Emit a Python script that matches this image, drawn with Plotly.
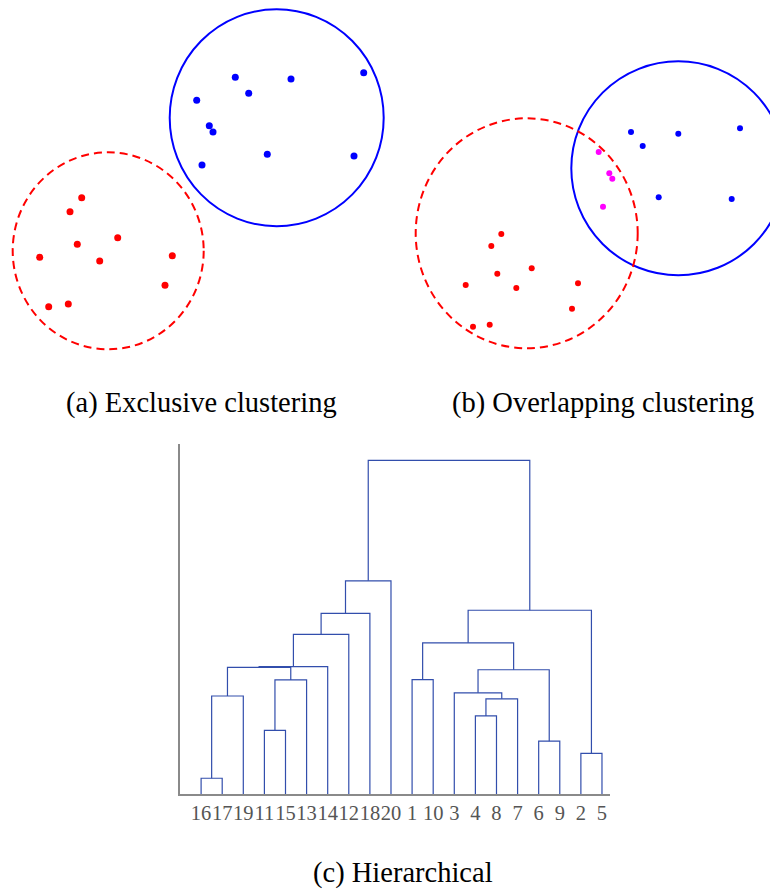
import plotly.graph_objects as go

# The page has an 8px body margin, so the figure is drawn 8px in from the top-left corner.
OFF = 8
PAGE_W, PAGE_H = 778, 891
W, H = PAGE_W - OFF, PAGE_H - OFF

# ---------------- Panel (a): exclusive clustering (page-pixel coordinates) ----------------
a_blue_x = [235.3, 291.0, 363.7, 248.7, 196.7, 209.3, 213.0, 267.3, 354.0, 202.0]
a_blue_y = [77.3, 79.0, 72.7, 93.3, 100.3, 125.7, 132.0, 154.3, 156.0, 165.0]
a_red_x = [81.7, 70.0, 77.3, 117.7, 39.7, 99.7, 172.3, 165.0, 48.7, 68.3]
a_red_y = [197.7, 211.7, 244.3, 237.7, 257.3, 261.0, 255.7, 285.3, 306.7, 304.0]
a_blue_circle = [276.7, 117.7, 107.0, 108.5]   # cx, cy, rx, ry
a_red_circle = [108.2, 250.8, 95.5, 98.5]

# ---------------- Panel (b): overlapping clustering ----------------
b_blue_x = [631.0, 678.3, 740.0, 642.7, 658.7, 731.7]
b_blue_y = [132.0, 133.7, 128.3, 146.0, 197.3, 199.0]
b_mag_x = [598.7, 609.3, 612.3, 603.0]
b_mag_y = [152.0, 173.3, 178.7, 206.7]
b_red_x = [501.3, 491.3, 497.3, 531.7, 465.7, 516.3, 578.0, 572.0, 473.0, 489.7]
b_red_y = [234.0, 246.0, 273.7, 268.3, 285.0, 288.0, 283.3, 308.7, 326.7, 324.7]
b_blue_circle = [678.3, 168.3, 107.0, 107.0]
b_red_circle = [526.7, 233.3, 111.0, 115.0]

# ---------------- Panel (c): hierarchical dendrogram ----------------
leaf_labels = ["16", "17", "19", "11", "15", "13", "14", "12", "18", "20",
               "1", "10", "3", "4", "8", "7", "6", "9", "2", "5"]
merge_left = ["16", "m0", "11", "m2", "m1", "m4", "m5", "m6", "m7",
              "1", "4", "m10", "3", "6", "m12", "m9", "2", "m15", "m8"]
merge_right = ["17", "19", "15", "13", "m3", "14", "12", "18", "20",
               "10", "8", "7", "m11", "9", "m13", "m14", "5", "m16", "m17"]
merge_height = [0.45, 2.80, 1.82, 3.26, 3.62, 3.64, 4.56, 5.16, 6.09,
                3.27, 2.23, 2.72, 2.89, 1.51, 3.55, 4.32, 1.16, 5.25, 9.53]

captions = ["(a) Exclusive clustering", "(b) Overlapping clustering", "(c) Hierarchical"]


def px(x):
    return (x - OFF) / W


def py(y):
    return (PAGE_H - y) / H


fig = go.Figure()

MS_A = 7
MS_B = 6
fig.add_trace(go.Scatter(x=a_blue_x, y=a_blue_y, mode="markers",
                         marker=dict(color="#0000FF", size=MS_A), xaxis="x", yaxis="y"))
fig.add_trace(go.Scatter(x=a_red_x, y=a_red_y, mode="markers",
                         marker=dict(color="#FF0000", size=MS_A), xaxis="x", yaxis="y"))
fig.add_trace(go.Scatter(x=b_blue_x, y=b_blue_y, mode="markers",
                         marker=dict(color="#0000FF", size=MS_B), xaxis="x", yaxis="y"))
fig.add_trace(go.Scatter(x=b_mag_x, y=b_mag_y, mode="markers",
                         marker=dict(color="#FF00FF", size=MS_B), xaxis="x", yaxis="y"))
fig.add_trace(go.Scatter(x=b_red_x, y=b_red_y, mode="markers",
                         marker=dict(color="#FF0000", size=MS_B), xaxis="x", yaxis="y"))


def circle(c, color, dash):
    cx, cy, rx, ry = c
    return dict(type="circle", xref="x", yref="y", x0=cx - rx, x1=cx + rx,
                y0=cy - ry, y1=cy + ry, line=dict(color=color, width=2, dash=dash),
                layer="below")


shapes = [circle(a_blue_circle, "#0000FF", "solid"),
          circle(a_red_circle, "#FF0000", "8px,5px"),
          circle(b_blue_circle, "#0000FF", "solid"),
          circle(b_red_circle, "#FF0000", "8px,5px")]

# dendrogram links
pos = {lab: i + 1 for i, lab in enumerate(leaf_labels)}
hgt = {lab: 0.0 for lab in leaf_labels}
dx, dy = [], []
for i, (l, r, h) in enumerate(zip(merge_left, merge_right, merge_height)):
    dx += [pos[l], pos[l], pos[r], pos[r], None]
    dy += [hgt[l], h, h, hgt[r], None]
    pos[f"m{i}"] = (pos[l] + pos[r]) / 2
    hgt[f"m{i}"] = h

fig.add_trace(go.Scatter(x=dx, y=dy, mode="lines",
                         line=dict(color="rgb(50,78,172)", width=1.2),
                         xaxis="x2", yaxis="y2", cliponaxis=False))

cap_font = dict(family="Liberation Serif", size=28.5, color="black")

fig.update_layout(
    width=W, height=H, margin=dict(l=0, r=0, t=0, b=0),
    paper_bgcolor="white", plot_bgcolor="rgba(0,0,0,0)", showlegend=False,
    xaxis=dict(domain=[0, 1], range=[OFF, PAGE_W], visible=False, fixedrange=True),
    yaxis=dict(domain=[0, 1], range=[PAGE_H, OFF], visible=False, fixedrange=True),
    xaxis2=dict(domain=[px(180), px(610)], range=[0, 20.38], anchor="y2",
                showline=True, linecolor="#8a8a8a", linewidth=1.5, showgrid=False,
                zeroline=False, tickmode="array", tickvals=list(range(1, 21)),
                ticktext=leaf_labels, ticks="", tickangle=0,
                tickfont=dict(family="Liberation Serif", size=20.5, color="#555555")),
    yaxis2=dict(domain=[py(794), py(444)], range=[0, 10], anchor="x2",
                showline=True, linecolor="#8a8a8a", linewidth=1.5, showgrid=False,
                zeroline=False, showticklabels=False, ticks=""),
    shapes=shapes,
    annotations=[
        dict(text=captions[0], x=px(202), y=py(403), xref="paper", yref="paper",
             xanchor="center", yanchor="middle", showarrow=False, font=cap_font),
        dict(text=captions[1], x=px(602.5), y=py(403), xref="paper", yref="paper",
             xanchor="center", yanchor="middle", showarrow=False, font=cap_font),
        dict(text=captions[2], x=px(403), y=py(873), xref="paper", yref="paper",
             xanchor="center", yanchor="middle", showarrow=False, font=cap_font),
    ],
)

fig.write_html("out.html")
